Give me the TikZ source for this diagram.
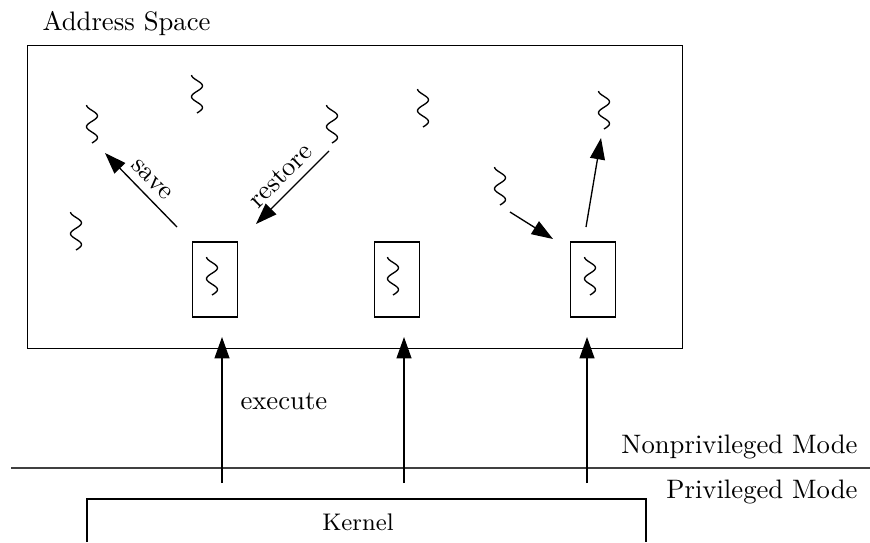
\documentclass[tikz,border=0pt]{standalone}
\usetikzlibrary{arrows.meta}
\tikzset{
  px/.style={x=0.3745pt,y=-0.3745pt},
  frame/.style={draw, line width=0.45pt, inner sep=0pt},
  arr/.style={-{Triangle[length=8pt,width=5.6pt]}, line width=0.5pt},
  modeline/.style={line width=0.8pt, draw=black!75},
  lbl/.style={inner sep=0pt, font=\normalsize},
  wave/.pic={\draw[line width=0.5pt] plot[smooth, domain=0:1, samples=30] ({-5.5*cos(630*\x)},{-19+38*\x});}
}
\begin{document}
\begin{tikzpicture}[px]
\useasboundingbox (0,0) rectangle (870,542);

% address space
\node[frame, anchor=north west, minimum width={655*0.3745pt}, minimum height={303*0.3745pt}] (as) at (27,45) {};
\node[lbl, anchor=base west] (aslabel) at (42,30) {Address Space};

% thread boxes
\node[frame, minimum width={45*0.3745pt}, minimum height={75*0.3745pt}] (b1) at (215,279.5) {};
\node[frame, minimum width={45*0.3745pt}, minimum height={75*0.3745pt}] (b2) at (397,279.5) {};
\node[frame, minimum width={45*0.3745pt}, minimum height={75*0.3745pt}] (b3) at (593,279.5) {};

% threads
\pic at (212,276) {wave};
\pic at (393,276) {wave};
\pic at (590,276) {wave};
\pic at (92,124) {wave};
\pic at (197,94) {wave};
\pic at (332,124) {wave};
\pic at (76,231) {wave};
\pic at (423,108) {wave};
\pic at (604,110) {wave};
\pic at (500,186) {wave};

% save / restore
\coordinate (sv1) at (177,227);
\coordinate (sv2) at (105,153);
\coordinate (rs1) at (329,151);
\coordinate (rs2) at (256,224);
\draw[arr] (sv1) -- node[midway, sloped, above, inner sep=3pt] (save) {save} (sv2);
\draw[arr] (rs1) -- node[midway, sloped, above, inner sep=3pt] (restore) {restore} (rs2);

% right group arrows
\coordinate (r1a) at (510,212);
\coordinate (r1b) at (553,239);
\coordinate (r2a) at (586,227);
\coordinate (r2b) at (601,138);
\draw[arr] (r1a) -- (r1b);
\draw[arr] (r2a) -- (r2b);

% mode separation
\coordinate (hl1) at (11,468);
\coordinate (hl2) at (870,468);
\draw[modeline] (hl1) -- (hl2);
\node[lbl, anchor=base east] (np) at (858,453) {Nonprivileged Mode};
\node[lbl, anchor=base east] (pm) at (858,498) {Privileged Mode};

% execute arrows
\coordinate (e1) at (222,483);
\coordinate (e2) at (404,483);
\coordinate (e3) at (587,483);
\coordinate (t1) at (222,337);
\coordinate (t2) at (404,337);
\coordinate (t3) at (587,337);
\draw[arr] (e1) -- (t1);
\draw[arr] (e2) -- (t2);
\draw[arr] (e3) -- (t3);
\node[lbl, anchor=base west] (exec) at (240,409) {execute};

% kernel
\coordinate (k1) at (87,542);
\coordinate (k2) at (87,499);
\coordinate (k3) at (646,499);
\coordinate (k4) at (646,542);
\draw[line width=0.45pt] (k1) -- (k2) -- (k3) -- (k4);
\node[lbl, anchor=base, font=\small] (kernel) at (358,530) {Kernel};
\end{tikzpicture}
\end{document}
